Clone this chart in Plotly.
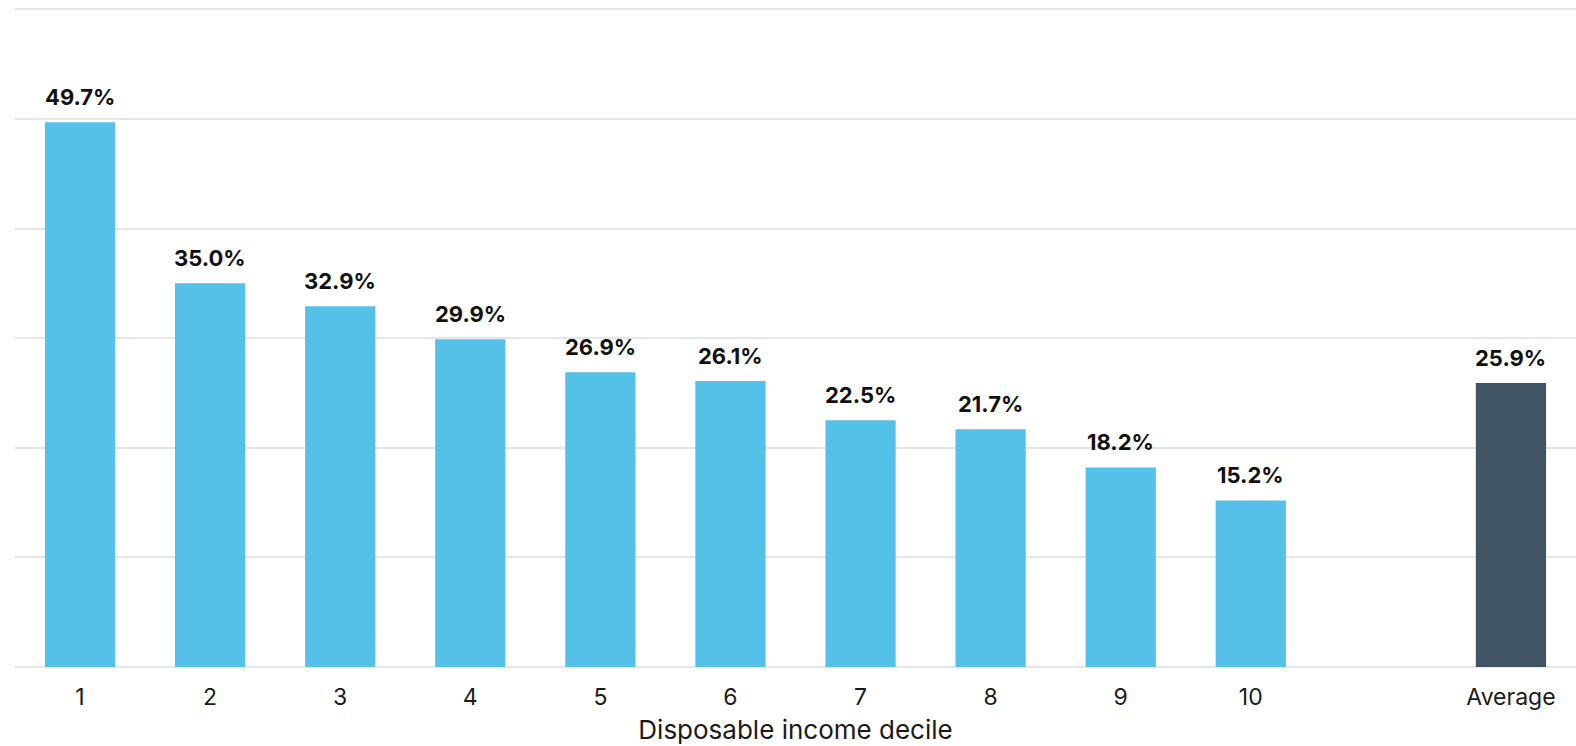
import plotly.graph_objects as go

# Share of households by disposable income decile
categories = ["1", "2", "3", "4", "5", "6", "7", "8", "9", "10", "Average"]
values = [49.7, 35.0, 32.9, 29.9, 26.9, 26.1, 22.5, 21.7, 18.2, 15.2, 25.9]
labels = ["49.7%", "35.0%", "32.9%", "29.9%", "26.9%", "26.1%", "22.5%", "21.7%", "18.2%", "15.2%", "25.9%"]

# Deciles sit at 0..9; the average is set apart after an empty slot
positions = list(range(10)) + [11]
colors = ["#56c1e8"] * 10 + ["#415464"]

fig = go.Figure(
    go.Bar(
        x=positions,
        y=values,
        marker=dict(color=colors, line=dict(width=0)),
        width=0.54,
        hoverinfo="skip",
    )
)

for xp, yv, lab in zip(positions, values, labels):
    fig.add_annotation(
        x=xp, y=yv, text=f"<b>{lab}</b>", showarrow=False,
        yanchor="bottom", yshift=10,
        font=dict(family="Inter", size=22, color="#111111"),
    )

fig.update_layout(
    width=1576, height=746,
    margin=dict(l=15, r=0, t=6, b=79),
    paper_bgcolor="white", plot_bgcolor="white",
    showlegend=False,
    font=dict(family="Inter", color="#1a1a1a"),
    xaxis=dict(
        range=[-0.5, 11.5],
        tickmode="array", tickvals=positions, ticktext=categories,
        tickfont=dict(size=23, color="#1a1a1a"),
        showgrid=False, zeroline=False, showline=False,
        ticks="", ticklen=0, ticklabelstandoff=14,
        title=dict(text="Disposable income decile", font=dict(size=26, color="#1a1a1a"), standoff=10),
    ),
    yaxis=dict(
        range=[0, 60.3], tickmode="array", tickvals=[0, 10, 20, 30, 40, 50, 60],
        showticklabels=False, showgrid=True,
        gridcolor="#e3e7ec", gridwidth=2,
        zeroline=True, zerolinecolor="#e3e7ec", zerolinewidth=2,
    ),
)

fig.write_html("out.html")
